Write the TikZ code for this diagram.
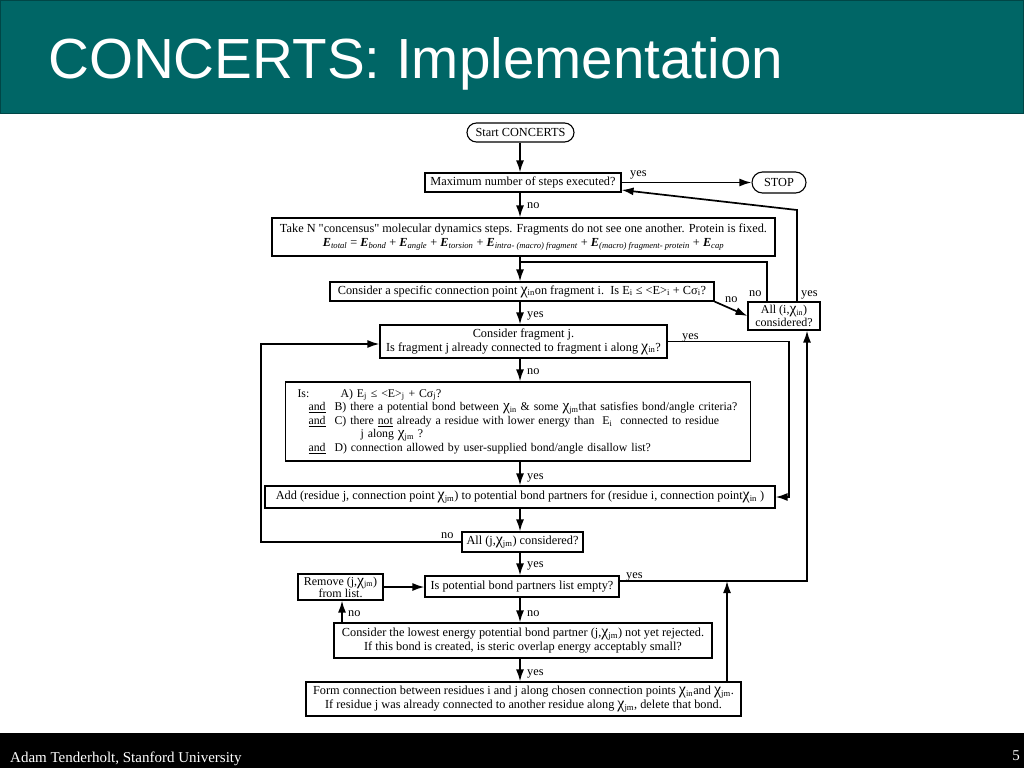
\documentclass[tikz,border=0pt]{standalone}
\usepackage{fontspec}
\setmainfont{Liberation Serif}
\newfontfamily\titlefont{Liberation Sans}
\usetikzlibrary{arrows.meta,shapes.misc,calc}
\definecolor{banner}{RGB}{0,102,102}
\definecolor{bannerline}{RGB}{0,70,70}
\newcommand\ch[1]{\scalebox{1.3}{χ}\textsubscript{#1}}
\newcommand\EE[1]{\textbf{\textit{E}}\textsubscript{\textit{#1}}}
\begin{document}
\begin{tikzpicture}[x=1pt,y=-1pt,
  fs/.style={font=\fontsize{12.3}{14}\selectfont},
  box/.style={draw, line width=1.1pt, fill=white, inner sep=0pt, align=center, fs},
  capsule/.style={box, rounded rectangle},
  arr/.style={line width=1.7pt, -{Latex[length=12pt,width=8pt]}},
  conn/.style={line width=1.7pt},
  lbl/.style={fs, inner sep=0pt, anchor=base west}]
\useasboundingbox (0,0) rectangle (1024,768);
\fill[white] (0,0) rectangle (1024,768);
% banner
\draw[fill=banner, draw=bannerline, line width=1pt] (0.5,0.5) rectangle (1023.5,113);
\node[anchor=base west, inner sep=0pt, text=white, font=\titlefont\fontsize{56.6}{60}\selectfont] (title) at (48,78) {CONCERTS: Implementation};
% footer
\fill[black] (0,733) rectangle (1024,768);
\node[anchor=base west, inner sep=0pt, text=white, font=\fontsize{15}{17}\selectfont] (foot) at (10,762) {Adam Tenderholt, Stanford University};
\node[anchor=base east, inner sep=0pt, text=white, font=\fontsize{15}{17}\selectfont] (pagenum) at (1020,760) {5};
% nodes
\node[capsule, minimum width=107pt, minimum height=19pt] (start) at (520.5,132.5) {Start CONCERTS};
\node[box, minimum width=196pt, minimum height=19pt] (max) at (523,182.5) {Maximum number of steps executed?};
\node[capsule, minimum width=54pt, minimum height=21pt] (stop) at (779,182.5) {STOP};
\node[box, minimum width=503pt, minimum height=38pt] (taken) at (523.5,237) {Take N \textquotedbl concensus\textquotedbl{} molecular dynamics steps. Fragments do not see one another. Protein is fixed.\\
\EE{total} = \EE{bond} + \EE{angle} + \EE{torsion} + \EE{intra- (macro) fragment} + \EE{(macro) fragment- protein} + \EE{cap}};
\node[box, minimum width=384pt, minimum height=19pt] (consider) at (522,291.5) {Consider a specific connection point \ch{in}on fragment i.\ \ Is E\textsubscript{i} ≤ <E>\textsubscript{i} + Cσ\textsubscript{i}?};
\node[box, minimum width=72pt, minimum height=28pt, font=\fontsize{12}{13}\selectfont] (alli) at (784,316) {All (i,\ch{in})\\considered?};
\node[box, minimum width=287pt, minimum height=33pt] (fragj) at (523.5,341.5) {Consider fragment j.\\Is fragment j already connected to fragment i along \ch{in}?};
\node[box, anchor=west, text width=441pt, inner xsep=12pt, minimum height=79pt, align=left, font=\fontsize{11.8}{13.6}\selectfont] (isbox) at (285,421.5) {\mbox{\makebox[43pt][l]{Is:}A) E\textsubscript{j} ≤ <E>\textsubscript{j} + Cσ\textsubscript{j}?}\\
\mbox{\hspace*{11pt}\underline{and}\hspace{9pt}B) there a potential bond between \ch{in} \& some \ch{jm}that satisfies bond/angle criteria?}\\
\mbox{\hspace*{11pt}\underline{and}\hspace{9pt}C) there \underline{not} already a residue with lower energy than\ \ E\textsubscript{i}\ \ connected to residue}\\
\mbox{\hspace*{63pt}j along \ch{jm} ?}\\
\mbox{\hspace*{11pt}\underline{and}\hspace{9pt}D) connection allowed by user-supplied bond/angle disallow list?}};
\node[box, minimum width=510pt, minimum height=22pt] (add) at (520,497) {Add (residue j, connection point \ch{jm}) to potential bond partners for (residue i, connection point\ch{in} )};
\node[box, minimum width=121pt, minimum height=20pt] (allj) at (522.5,542) {All (j,\ch{jm}) considered?};
\node[box, minimum width=85pt, minimum height=26pt, font=\fontsize{12}{12}\selectfont] (remove) at (340.5,587) {Remove (j,\ch{jm})\\from list.};
\node[box, minimum width=194pt, minimum height=21pt] (empty) at (522,586.5) {Is potential bond partners list empty?};
\node[box, minimum width=378pt, minimum height=35pt] (lowest) at (523,640.5) {Consider the lowest energy potential bond partner (j,\ch{jm}) not yet rejected.\\If this bond is created, is steric overlap energy acceptably small?};
\node[box, minimum width=435pt, minimum height=34pt] (form) at (523.5,699) {Form connection between residues i and j along chosen connection points \ch{in}and \ch{jm}.\\If residue j was already connected to another residue along \ch{jm}, delete that bond.};
% coordinates
\coordinate (mx) at (520,0);
\coordinate (c1) at (767,262);
\coordinate (c2) at (797,210);
\coordinate (c4) at (789,342);
\coordinate (c5) at (261,344);
\coordinate (c6) at (807,581);
\coordinate (c7) at (727,0);
\coordinate (c8) at (342,0);
% connectors
\draw[arr] (start.south -| mx) -- (max.north -| mx);
\draw[arr] (max.east) -- (stop.west);
\draw[arr] (max.south -| mx) -- (taken.north -| mx);
\draw[arr] (taken.south -| mx) -- (consider.north -| mx);
\draw[conn] (alli.north -| c1) -- (c1) -- (c1 -| mx);
\draw[arr] (alli.north -| c2) -- (c2) -- ([yshift=-7.5pt]max.east);
\draw[arr] (consider.south east) -- (alli.west);
\draw[arr] (consider.south -| mx) -- (fragj.north -| mx);
\draw[arr] (fragj.east) -| (add.east -| c4) -- (add.east);
\draw[arr] (fragj.south -| mx) -- (isbox.north -| mx);
\draw[arr] (isbox.south -| mx) -- (add.north -| mx);
\draw[arr] (add.south -| mx) -- (allj.north -| mx);
\draw[arr] (allj.west) -| (c5) -- (c5 -| fragj.west);
\draw[arr] (allj.south -| mx) -- (empty.north -| mx);
\draw[arr] ([yshift=5.5pt]empty.east) -| (alli.south -| c6);
\draw[arr] (empty.south -| mx) -- (lowest.north -| mx);
\draw[arr] (form.north -| c7) -- (c6 -| c7);
\draw[arr] (lowest.north -| c8) -- (remove.south -| c8);
\draw[arr] (remove.east) -- (remove.east -| empty.west);
\draw[arr] (lowest.south -| mx) -- (form.north -| mx);
% labels
\node[lbl] (l1) at (630,176) {yes};
\node[lbl] (l2) at (527,208) {no};
\node[lbl] (l3) at (527,317) {yes};
\node[lbl] (l4) at (725,302) {no};
\node[lbl] (l5) at (749,296) {no};
\node[lbl] (l6) at (801,296) {yes};
\node[lbl] (l7) at (682,339) {yes};
\node[lbl] (l8) at (527,374) {no};
\node[lbl] (l9) at (527,479) {yes};
\node[lbl] (l10) at (441,538) {no};
\node[lbl] (l11) at (527,567) {yes};
\node[lbl] (l12) at (626,578) {yes};
\node[lbl] (l13) at (527,616) {no};
\node[lbl] (l14) at (348,616) {no};
\node[lbl] (l15) at (527,675) {yes};
\end{tikzpicture}
\end{document}
